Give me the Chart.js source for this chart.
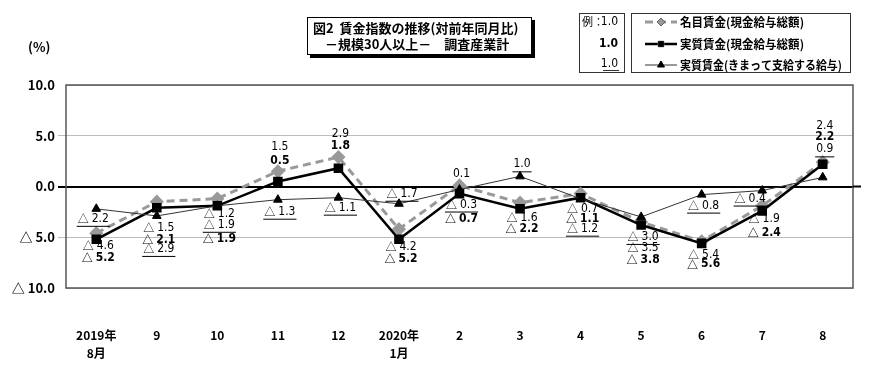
<!DOCTYPE html>
<html>
<head>
<meta charset="utf-8">
<script src="https://cdn.jsdelivr.net/npm/chart.js@4.4.1/dist/chart.umd.min.js"></script>
<style>
  body { margin: 0; background: #fff; }
</style>
</head>
<body>
<canvas id="chart" width="890" height="370"></canvas>
<script>
// データ
const categories = [['2019年', '8月'], '9', '10', '11', '12', ['2020年', '1月'], '2', '3', '4', '5', '6', '7', '8'];
const nominalWage = [-4.6, -1.5, -1.2, 1.5, 2.9, -4.2, 0.1, -1.6, -0.7, -3.5, -5.4, -1.9, 2.4];
const realWage = [-5.2, -2.1, -1.9, 0.5, 1.8, -5.2, -0.7, -2.2, -1.1, -3.8, -5.6, -2.4, 2.2];
const realScheduled = [-2.2, -2.9, -1.9, -1.3, -1.1, -1.7, -0.3, 1.0, -1.2, -3.0, -0.8, -0.4, 0.9];
const yTicks = [10, 5, 0, -5, -10];

// ラベル位置（点からのずれ px）
const nominalDy = [13, 26, 15, -24, -23, 18, -12, 15, 15, 26, 14, 13, -36];
const realDy = [19, 32, 33, -21, -22, 20, 25, 20, 21, 35, 21, 22, -27];
const schedDy = [10, 33, 19, 12, 10, -10, 15, -12, 30, 20, 11, 8, -28];
const schedDx = [-3, 2, 2, 2, 2, 3, 2, 2, 2, 2, 2, -12, 2];

const JP = '"Noto Sans CJK JP", sans-serif';
const NARROW = '"Liberation Sans Narrow", "DejaVu Sans Condensed", "Liberation Sans", sans-serif';

function fmt(v) {
    return v < 0 ? '△ ' + Math.abs(v).toFixed(1) : v.toFixed(1);
}

// △ は和文フォント、数字は細いフォントで描く
function drawValue(ctx, v, x, y, bold, under) {
    const w8 = bold ? 'bold ' : '';
    const num = Math.abs(v).toFixed(1);
    const neg = v < 0;
    ctx.font = w8 + '11px ' + JP;
    const tw = neg ? ctx.measureText('△').width + 3 : 0;
    ctx.font = w8 + '12px ' + NARROW;
    const nw = ctx.measureText(num).width;
    const left = x - (tw + nw) / 2;
    ctx.textAlign = 'left';
    if (neg) {
        ctx.font = w8 + '11px ' + JP;
        ctx.fillText('△', left, y);
    }
    ctx.font = w8 + '12px ' + NARROW;
    ctx.fillText(num, left + tw, y);
    if (under) {
        ctx.lineWidth = 1;
        ctx.beginPath();
        ctx.moveTo(left - 1, y + 7.5);
        ctx.lineTo(left + tw + nw + 1, y + 7.5);
        ctx.stroke();
    }
}

// 値ラベル
const valueLabels = {
    id: 'valueLabels',
    afterDatasetsDraw(chart) {
        const ctx = chart.ctx;
        ctx.save();
        ctx.textBaseline = 'middle';
        ctx.fillStyle = '#000';
        ctx.strokeStyle = '#000';
        const sets = [
            { data: nominalWage, dy: nominalDy, dx: null, bold: false, under: false },
            { data: realWage, dy: realDy, dx: null, bold: true, under: false },
            { data: realScheduled, dy: schedDy, dx: schedDx, bold: false, under: true }
        ];
        sets.forEach((s, di) => {
            const meta = chart.getDatasetMeta(di);
            meta.data.forEach((pt, i) => {
                const x = pt.x + (s.dx ? s.dx[i] : 2);
                const y = pt.y + s.dy[i];
                drawValue(ctx, s.data[i], x, y, s.bold, s.under);
            });
        });
        ctx.restore();
    }
};

// 枠・タイトル・凡例
const decorations = {
    id: 'decorations',
    afterDraw(chart) {
        const ctx = chart.ctx;
        const a = chart.chartArea;
        ctx.save();

        // プロット枠
        ctx.strokeStyle = '#555';
        ctx.lineWidth = 1.5;
        ctx.strokeRect(a.left, a.top, a.right - a.left, a.bottom - a.top);
        // ゼロ線の右はみ出し
        const y0 = chart.scales.y.getPixelForValue(0);
        ctx.strokeStyle = '#000';
        ctx.lineWidth = 2;
        ctx.beginPath();
        ctx.moveTo(a.right, y0);
        ctx.lineTo(a.right + 8, y0);
        ctx.stroke();

        // (%)
        ctx.fillStyle = '#000';
        ctx.font = 'bold 13px ' + JP;
        ctx.textAlign = 'left';
        ctx.textBaseline = 'middle';
        ctx.fillText('(%)', 28, 47);

        // タイトル
        ctx.fillStyle = '#000';
        ctx.fillRect(310, 20, 225, 38);
        ctx.fillStyle = '#fff';
        ctx.fillRect(307, 17, 225, 38);
        ctx.strokeStyle = '#000';
        ctx.lineWidth = 1;
        ctx.strokeRect(307.5, 17.5, 224, 37);
        ctx.fillStyle = '#000';
        ctx.font = 'bold 13px ' + JP;
        ctx.fillText('図2  賃金指数の推移(対前年同月比)', 313, 28, 214);
        ctx.fillText('－規模30人以上－　調査産業計', 325, 44, 190);

        // 凡例（例）
        ctx.strokeStyle = '#333';
        ctx.lineWidth = 1;
        ctx.strokeRect(579.5, 13.5, 45, 59);
        ctx.strokeRect(631.5, 13.5, 219, 59);
        ctx.font = '11px ' + JP;
        ctx.textAlign = 'left';
        ctx.fillText('例：', 582, 22);
        ctx.textAlign = 'right';
        ctx.font = '12px ' + NARROW;
        ctx.fillText('1.0', 618, 22);
        ctx.font = 'bold 12px ' + NARROW;
        ctx.fillText('1.0', 618, 44);
        ctx.font = '12px ' + NARROW;
        ctx.fillText('1.0', 618, 64);
        ctx.beginPath();
        ctx.moveTo(603, 70.5);
        ctx.lineTo(619, 70.5);
        ctx.stroke();

        // 凡例（系列）
        const rows = [
            { y: 22, text: '名目賃金(現金給与総額)', w: 124, ds: 0 },
            { y: 44, text: '実質賃金(現金給与総額)', w: 124, ds: 1 },
            { y: 65, text: '実質賃金(きまって支給する給与)', w: 162, ds: 2 }
        ];
        rows.forEach(r => {
            const ds = chart.data.datasets[r.ds];
            ctx.save();
            ctx.strokeStyle = ds.borderColor;
            ctx.lineWidth = ds.borderWidth;
            ctx.setLineDash(ds.borderDash || []);
            ctx.beginPath();
            ctx.moveTo(645, r.y);
            ctx.lineTo(677, r.y);
            ctx.stroke();
            ctx.restore();
            Chart.helpers.drawPoint(ctx, {
                pointStyle: ds.pointStyle,
                radius: ds.pointRadius - 1,
                rotation: 0,
                borderWidth: 1
            }, 661, r.y);
            ctx.fillStyle = ds.pointBackgroundColor;
            ctx.strokeStyle = ds.pointBorderColor;
            ctx.fill();
            ctx.fillStyle = '#000';
            ctx.font = 'bold 12px ' + JP;
            ctx.textAlign = 'left';
            ctx.fillText(r.text, 680, r.y, r.w);
        });
        ctx.restore();
    }
};

const ctx = document.getElementById('chart').getContext('2d');
new Chart(ctx, {
    type: 'line',
    data: {
        labels: categories,
        datasets: [{
            label: '名目賃金(現金給与総額)',
            data: nominalWage,
            borderColor: '#999',
            borderWidth: 3,
            borderDash: [8, 5],
            pointStyle: 'rectRot',
            pointRadius: 5,
            pointBackgroundColor: '#999',
            pointBorderColor: '#999',
            order: 2
        }, {
            label: '実質賃金(現金給与総額)',
            data: realWage,
            borderColor: '#000',
            borderWidth: 2.5,
            pointStyle: 'rect',
            pointRadius: 5,
            pointBackgroundColor: '#000',
            pointBorderColor: '#000',
            order: 1
        }, {
            label: '実質賃金(きまって支給する給与)',
            data: realScheduled,
            borderColor: '#333',
            borderWidth: 1,
            pointStyle: 'triangle',
            pointRadius: 5,
            pointBackgroundColor: '#000',
            pointBorderColor: '#000',
            order: 0
        }]
    },
    options: {
        responsive: false,
        animation: false,
        layout: { padding: { top: 85, right: 37, left: 0, bottom: 0 } },
        plugins: {
            legend: { display: false },
            tooltip: { enabled: false }
        },
        scales: {
            x: {
                offset: true,
                grid: { display: false },
                border: { display: false },
                afterFit: s => { s.height = 82; },
                ticks: {
                    color: '#000',
                    padding: 31,
                    maxRotation: 0,
                    font: { family: JP, size: 12, weight: 'bold', lineHeight: 1.45 }
                }
            },
            y: {
                min: -10,
                max: 10,
                afterFit: s => { s.width = 66; },
                afterBuildTicks: s => { s.ticks = yTicks.map(v => ({ value: v })); },
                border: { display: false },
                grid: {
                    color: c => c.tick.value === 0 ? '#000' : '#bbb',
                    lineWidth: c => c.tick.value === 0 ? 2 : 1,
                    tickColor: c => Math.abs(c.tick.value) === 10 ? 'rgba(0,0,0,0)' : (c.tick.value === 0 ? '#000' : '#bbb'),
                    tickLength: 8
                },
                ticks: {
                    color: '#000',
                    padding: 3,
                    font: { family: JP, size: 13, weight: 'bold' },
                    callback: v => fmt(v)
                }
            }
        }
    },
    plugins: [valueLabels, decorations]
});
</script>
</body>
</html>
